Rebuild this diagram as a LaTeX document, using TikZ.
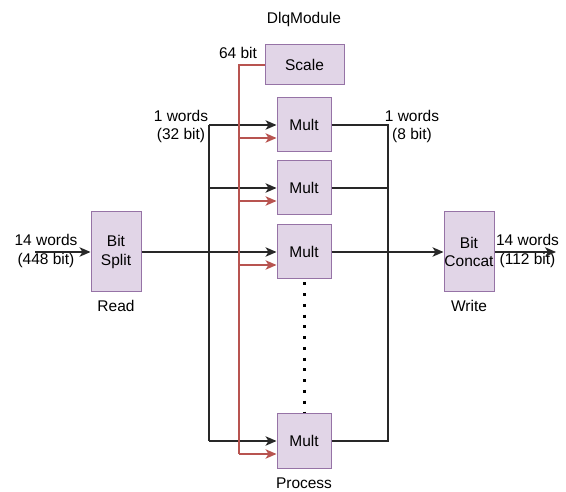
\documentclass[tikz,border=0pt]{standalone}
\usepackage{fontspec}
\setmainfont{Liberation Sans}
\usetikzlibrary{positioning, arrows.meta}
\definecolor{boxFill}{HTML}{E1D5E7}
\definecolor{boxLine}{HTML}{9673A6}
\definecolor{scaleRed}{HTML}{B85450}
\definecolor{wireGrey}{RGB}{40,40,40}

\tikzset{
  unit/.style={draw=boxLine, fill=boxFill, line width=1pt, inner sep=0pt,
    minimum width=54pt, minimum height=54pt, align=center},
  wire/.style={draw=wireGrey, line width=1.3pt},
  feed/.style={wire, -{Stealth[length=11pt, width=9.5pt, inset=3pt]}},
  redwire/.style={draw=scaleRed, line width=1.3pt},
  redfeed/.style={redwire, -{Stealth[length=11pt, width=9.5pt, inset=3pt]}},
  tag/.style={align=center, inner sep=0pt},
}

\begin{document}
\begin{tikzpicture}[x=1pt, y=-1pt, font=\fontsize{15.5}{18.6}\selectfont]
\useasboundingbox (0,0) rectangle (566,492);

% Blocks
\node[unit, minimum width=79pt, minimum height=40pt] (scale) at (304.5,65) {Scale};
\node[unit] (mult1) at (304,125) {Mult};
\node[unit] (mult2) at (304,188) {Mult};
\node[unit] (mult3) at (304,252) {Mult};
\node[unit] (mult4) at (304,441) {Mult};
\node[unit, minimum width=50pt, minimum height=80pt] (split) at (116,252) {Bit\\Split};
\node[unit, minimum width=50pt, minimum height=80pt] (concat) at (469,252) {Bit\\Concat};

% Labels
\node[tag] (title) at (304,19) {DlqModule};
\node[tag] (read) at (116,306) {Read};
\node[tag] (write) at (469,306) {Write};
\node[tag] (process) at (304,483) {Process};
\node[tag] (scalebits) at (238,53) {64 bit};
\node[tag] (inword) at (181,126.5) {1 words\\(32 bit)};
\node[tag] (outword) at (412,126.5) {1 words\\(8 bit)};
\node[tag] (inbits) at (46,251) {14 words\\(448 bit)};
\node[tag] (outbits) at (527.5,251) {14 words\\(112 bit)};

% Bus corners
\coordinate (inStart) at (35,252);
\coordinate (outEnd) at (556,252);
\coordinate (busTop) at (209,125);
\coordinate (busBot) at (209,441);
\coordinate (redBus) at (239,454);
\coordinate (rbus) at (388,441);

% Data in
\draw[feed] (inStart) -- (split.west);
\draw[feed] (split.east) -- (mult3.west);
\draw[wire] (busTop) -- (busBot);
\draw[feed] (busTop) -- (mult1.west);
\draw[feed] (busTop |- mult2) -- (mult2.west);
\draw[feed] (busBot) -- (mult4.west);

% Scale feed
\draw[redwire] (scale.west) -| (redBus);
\foreach \i in {1,2,3,4} {
  \coordinate (in\i) at ([yshift=-13pt]mult\i.west);
  \draw[redfeed] (in\i -| redBus) -- (in\i);
}

% Data out
\draw[wire] (mult1.east) -| (rbus) -- (mult4.east);
\draw[wire] (mult2.east) -- (mult2.east -| rbus);
\draw[feed] (mult3.east) -- (concat.west);
\draw[feed] (concat.east) -- (outEnd);

% Elided units
\draw[line width=3pt, dash pattern=on 3pt off 7.75pt]
  ([yshift=-3pt]mult3.south) -- ([yshift=1pt]mult4.north);
\end{tikzpicture}
\end{document}
